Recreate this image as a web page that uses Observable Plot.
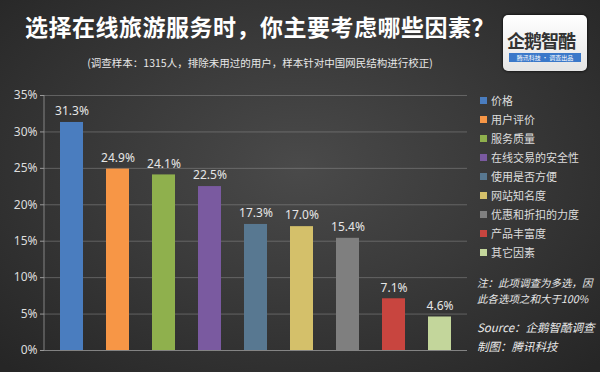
<!DOCTYPE html>
<html><head><meta charset="utf-8">
<script src="https://cdn.jsdelivr.net/npm/d3@7"></script>
<script src="https://cdn.jsdelivr.net/npm/@observablehq/plot@0.6"></script>
<style>
html,body{margin:0;padding:0;}
#wrap{position:relative;width:600px;height:372px;overflow:hidden;
 background:radial-gradient(ellipse 70% 75% at 50% 45%, #4a4a4a 0%, #3a3a3a 45%, #262626 100%);
 font-family:"Noto Sans CJK SC","Noto Sans",sans-serif;color:#eee;}
#title{position:absolute;left:0;width:520px;top:9px;text-align:center;font-size:23px;font-weight:bold;color:#fff;letter-spacing:0.5px;}
#sub{position:absolute;left:0;width:520px;top:55px;text-align:center;font-size:10.5px;color:#e8e8e8;}
#logo{position:absolute;left:503px;top:15px;width:84px;height:56px;background:linear-gradient(#ffffff,#e4e4e4);border-radius:5px;box-shadow:0 0 3px #000;}
#logo .t{position:absolute;left:4px;top:12px;font-size:18px;font-weight:bold;color:#333;letter-spacing:-1px;}
#logo .b{position:absolute;left:6px;top:38px;width:72px;height:9px;background:#3a78c9;color:#fff;font-size:6px;line-height:9px;text-align:center;}
#chart{position:absolute;left:0;top:80px;}
#legend{position:absolute;left:480px;top:93px;font-size:11px;color:#ddd;}
#legend div{height:19px;line-height:14px;white-space:nowrap;}
#legend span{display:inline-block;width:7px;height:7px;margin-right:4px;vertical-align:1px;}
#note{position:absolute;left:477px;top:275px;font-size:10.5px;font-style:italic;color:#e8e8e8;line-height:16px;}
#src{position:absolute;left:477px;top:318px;font-size:11.5px;font-style:italic;color:#e8e8e8;line-height:19px;}
</style></head>
<body><div id="wrap">
<div id="title">选择在线旅游服务时，你主要考虑哪些因素？</div>
<div id="sub">(调查样本：1315人，排除未用过的用户，样本针对中国网民结构进行校正)</div>
<div id="logo"><div class="t">企鹅智酷</div><div class="b">腾讯科技 · 调查出品</div></div>
<div id="chart"></div>
<div id="legend"></div>
<div id="note">注：此项调查为多选，因<br>此各选项之和大于100%</div>
<div id="src">Source：企鹅智酷调查<br>制图：腾讯科技</div>
</div>
<script>
const categories = ["价格","用户评价","服务质量","在线交易的安全性","使用是否方便","网站知名度","优惠和折扣的力度","产品丰富度","其它因素"];
const values = [31.3, 24.9, 24.1, 22.5, 17.3, 17.0, 15.4, 7.1, 4.6];
const colors = ["#4a7dbf","#f79646","#8fb04d","#7a5aa0","#587891","#d4c06a","#7f7f7f","#c8453f","#c3d69b"];
const yTicks = [0,5,10,15,20,25,30,35];

const data = categories.map((c,i)=>({cat:c, v:values[i]}));

const chart = Plot.plot({
  width: 470, height: 292,
  marginLeft: 44, marginRight: 3, marginTop: 15, marginBottom: 22,
  style: {background: "transparent", color: "#ddd", fontFamily: "'Noto Sans','Open Sans',sans-serif"},
  x: {domain: categories, paddingInner: 0.49, paddingOuter: 0.28, axis: null},
  y: {domain: [0,35], ticks: yTicks, axis: null},
  color: {domain: categories, range: colors},
  marks: [
    Plot.gridY(yTicks.filter(d=>d>0), {stroke: "#9a9a9a", strokeOpacity: 0.45, strokeWidth: 1}),
    Plot.axisY({ticks: yTicks, tickFormat: d => d + "%", tickSize: 4, tickPadding: 3, fontSize: 12, stroke: "#999", fill: "#ddd", label: null}),
    Plot.ruleY([0], {stroke: "#999", strokeOpacity: 0.8}),
    Plot.barY(data, {x: "cat", y: "v", fill: "cat"}),
    Plot.text(data, {x: "cat", y: "v", text: d => d.v.toFixed(1) + "%", dy: -11, fill: "#e6e6e6", fontSize: 12})
  ]
});
document.getElementById("chart").appendChild(chart);
// y axis line
const svg = d3.select(chart);
svg.append("line").attr("x1",44).attr("x2",44).attr("y1",15).attr("y2",270).attr("stroke","#999").attr("stroke-opacity",0.8);

const leg = document.getElementById("legend");
categories.forEach((c,i)=>{
  const d = document.createElement("div");
  d.innerHTML = `<span style="background:${colors[i]}"></span>${c}`;
  leg.appendChild(d);
});
</script>
</body></html>
